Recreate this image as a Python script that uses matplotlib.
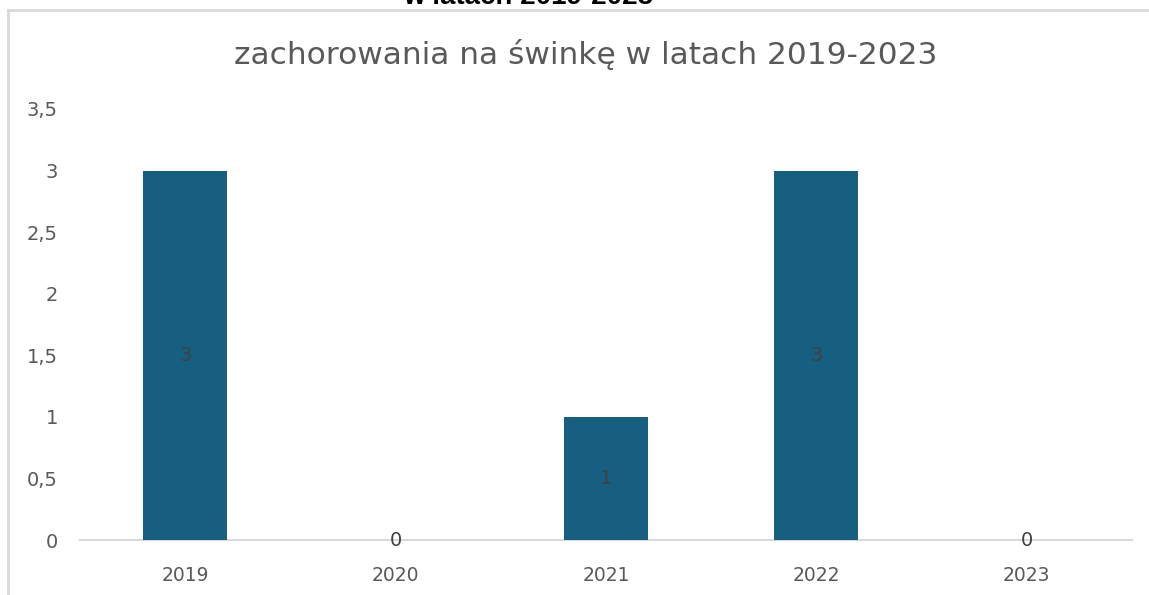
import matplotlib.pyplot as plt
from matplotlib.lines import Line2D

# dane
years = ['2019', '2020', '2021', '2022', '2023']
cases = [3, 0, 1, 3, 0]
yticks = [0, 0.5, 1, 1.5, 2, 2.5, 3, 3.5]
ytick_labels = ['0', '0,5', '1', '1,5', '2', '2,5', '3', '3,5']

W, H = 1149, 595
fig = plt.figure(figsize=(W / 100, H / 100), dpi=100)
ax = fig.add_axes([80 / W, 1 - 540 / H, (1132 - 80) / W, (540 - 109) / H])

bar_color = '#165F80'
x = list(range(len(years)))
ax.bar(x, cases, width=0.4, color=bar_color, zorder=2)

# etykiety wartości
for xi, v in zip(x, cases):
    ax.text(xi, v / 2, str(v), ha='center', va='center',
            fontsize=14, color='#404040', zorder=3)

ax.set_xlim(-0.5, len(years) - 0.5)
ax.set_ylim(0, 3.5)
ax.set_xticks(x)
ax.set_xticklabels(years)
ax.set_yticks(yticks)
ax.set_yticklabels(ytick_labels)
ax.tick_params(axis='x', length=0, pad=19, labelsize=13.5, labelcolor='#595959')
ax.tick_params(axis='y', length=0, pad=16, labelsize=14, labelcolor='#595959')
for lab in ax.get_yticklabels():
    lab.set_horizontalalignment('right')

for side in ['top', 'right', 'left']:
    ax.spines[side].set_visible(False)
ax.spines['bottom'].set_color('#d9d9d9')
ax.spines['bottom'].set_linewidth(1.5)
ax.spines['bottom'].set_zorder(1)

# tytuł
fig.text(586 / W, 1 - 55 / H, 'zachorowania na świnkę w latach 2019-2023',
         ha='center', va='center', fontsize=22.5, color='#595959',
         family=['Liberation Sans Narrow', 'DejaVu Sans'])

# obcięty tekst u góry (w oryginale widać tylko dolną krawędź)
fig.text(528 / W, 1 - 4 / H, 'w latach 2019-2023', ha='center', va='baseline',
         fontsize=20, fontweight='bold', color='black',
         family=['Liberation Sans', 'DejaVu Sans'])

# ramka wykresu
fig.add_artist(Line2D([8 / W, 1], [1 - 10 / H, 1 - 10 / H], color='#d9d9d9',
                      linewidth=2, transform=fig.transFigure))
fig.add_artist(Line2D([8 / W, 8 / W], [0, 1 - 10 / H], color='#d9d9d9',
                      linewidth=2, transform=fig.transFigure))

fig.savefig('out.png', dpi=100)
